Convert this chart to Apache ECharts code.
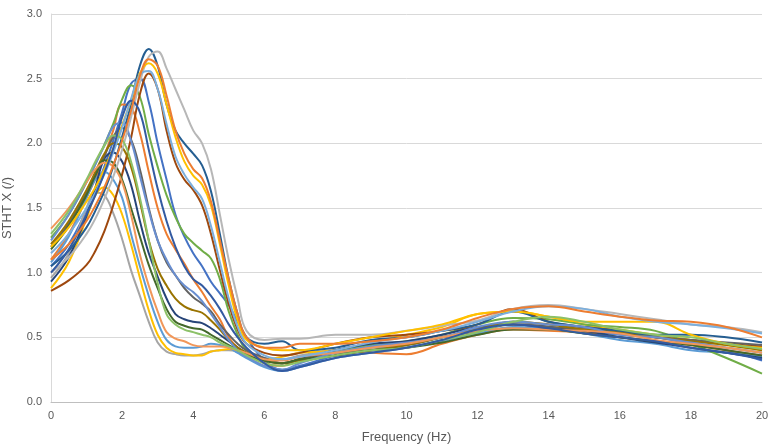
<!DOCTYPE html>
<html><head><meta charset="utf-8">
<script src="https://cdn.jsdelivr.net/npm/echarts@6/dist/echarts.min.js"></script>
<style>html,body{margin:0;padding:0;background:#fff}#c{width:769px;height:446px}</style>
</head><body><div id="c"></div>
<script>
const xs = [0,0.5,1,1.25,1.5,1.75,2,2.25,2.5,2.75,3,3.25,3.5,3.75,4,4.25,4.5,4.75,5,5.25,5.5,6,6.5,7,8,9,10,11,12,13,14,15,16,17,18,19,20];
const yTicks = [0,0.5,1,1.5,2,2.5,3];
const xTicks = [0,2,4,6,8,10,12,14,16,18,20];

const sA = [1.05,1.17,1.35,1.48,1.63,1.82,2.05,2.3,2.6,2.73,2.6,2.3,2.1,2.0,1.92,1.83,1.63,1.3,0.95,0.68,0.5,0.45,0.47,0.4,0.42,0.48,0.5,0.55,0.6,0.7,0.62,0.58,0.55,0.52,0.52,0.5,0.46];
const sB = [1.0,1.12,1.3,1.42,1.57,1.74,1.95,2.2,2.47,2.67,2.71,2.58,2.42,2.26,2.1,2.0,1.8,1.45,1.1,0.8,0.55,0.48,0.49,0.49,0.52,0.52,0.55,0.59,0.63,0.72,0.75,0.72,0.68,0.64,0.6,0.58,0.54];
const sC = [1.1,1.22,1.4,1.52,1.66,1.83,2.02,2.25,2.52,2.65,2.6,2.37,2.1,1.92,1.8,1.73,1.55,1.25,0.95,0.68,0.5,0.42,0.42,0.45,0.45,0.47,0.5,0.56,0.65,0.72,0.74,0.7,0.66,0.63,0.62,0.58,0.5];
const sD = [1.2,1.35,1.55,1.66,1.8,1.96,2.14,2.33,2.54,2.62,2.54,2.3,2.05,1.86,1.75,1.68,1.52,1.22,0.9,0.63,0.48,0.42,0.4,0.4,0.45,0.5,0.55,0.6,0.68,0.7,0.66,0.62,0.62,0.62,0.52,0.45,0.42];
const sE = [1.15,1.3,1.5,1.62,1.76,1.93,2.12,2.34,2.53,2.56,2.42,2.15,1.9,1.76,1.66,1.57,1.36,1.08,0.8,0.58,0.45,0.36,0.33,0.35,0.4,0.46,0.5,0.55,0.62,0.7,0.74,0.72,0.66,0.62,0.6,0.57,0.53];
const sF = [0.86,0.94,1.06,1.17,1.32,1.52,1.76,2.04,2.38,2.54,2.42,2.1,1.85,1.72,1.64,1.52,1.3,1.02,0.76,0.56,0.45,0.38,0.36,0.38,0.45,0.5,0.52,0.55,0.6,0.72,0.62,0.58,0.55,0.5,0.48,0.45,0.43];
const sG = [1.05,1.22,1.48,1.64,1.82,2.02,2.24,2.46,2.5,2.32,2.0,1.72,1.45,1.28,1.15,1.05,0.93,0.84,0.75,0.62,0.5,0.32,0.25,0.28,0.36,0.42,0.44,0.5,0.55,0.62,0.58,0.55,0.52,0.5,0.45,0.4,0.32];
const sH = [1.27,1.45,1.7,1.84,1.99,2.15,2.34,2.45,2.36,2.07,1.82,1.6,1.43,1.3,1.23,1.17,1.11,0.95,0.7,0.52,0.4,0.33,0.3,0.33,0.4,0.44,0.47,0.52,0.6,0.65,0.64,0.6,0.58,0.55,0.45,0.34,0.22];
const sI = [1.0,1.18,1.45,1.6,1.77,1.96,2.2,2.33,2.24,1.95,1.65,1.4,1.2,1.05,0.95,0.9,0.82,0.72,0.6,0.5,0.42,0.3,0.24,0.27,0.34,0.38,0.42,0.48,0.56,0.6,0.57,0.53,0.5,0.47,0.42,0.38,0.33];
const sJ = [1.1,1.3,1.58,1.73,1.9,2.1,2.3,2.28,2.08,1.78,1.5,1.3,1.18,1.07,0.95,0.85,0.74,0.64,0.5,0.42,0.38,0.3,0.28,0.34,0.4,0.38,0.37,0.45,0.52,0.56,0.55,0.54,0.5,0.47,0.44,0.4,0.36];
const sK = [1.25,1.45,1.7,1.84,1.98,2.13,2.16,2.02,1.75,1.48,1.25,1.1,0.98,0.9,0.85,0.78,0.68,0.58,0.48,0.4,0.35,0.28,0.25,0.3,0.38,0.43,0.46,0.5,0.58,0.62,0.6,0.58,0.52,0.5,0.46,0.42,0.38];
const sL = [1.2,1.38,1.62,1.76,1.9,2.05,2.12,2.03,1.8,1.5,1.25,1.08,0.98,0.88,0.81,0.76,0.7,0.6,0.52,0.45,0.4,0.34,0.3,0.33,0.38,0.4,0.44,0.5,0.55,0.6,0.58,0.56,0.53,0.5,0.48,0.46,0.44];
const sM = [1.3,1.48,1.72,1.86,1.98,2.06,2.03,1.86,1.58,1.25,0.92,0.68,0.6,0.56,0.54,0.52,0.5,0.46,0.43,0.4,0.36,0.3,0.28,0.31,0.36,0.4,0.42,0.48,0.54,0.62,0.66,0.62,0.56,0.52,0.5,0.45,0.41];
const sN = [1.22,1.4,1.64,1.78,1.92,2.0,1.97,1.82,1.55,1.25,1.03,0.9,0.8,0.74,0.71,0.69,0.63,0.56,0.48,0.42,0.38,0.32,0.3,0.32,0.36,0.4,0.44,0.5,0.56,0.62,0.6,0.56,0.54,0.5,0.47,0.44,0.4];
const sO = [0.93,1.12,1.44,1.66,1.88,1.93,1.86,1.68,1.4,1.15,0.97,0.8,0.68,0.64,0.62,0.61,0.57,0.52,0.47,0.42,0.38,0.33,0.3,0.33,0.4,0.45,0.47,0.52,0.58,0.6,0.58,0.55,0.5,0.46,0.42,0.38,0.34];
const sP = [1.18,1.36,1.6,1.75,1.87,1.85,1.72,1.5,1.28,1.06,0.88,0.72,0.62,0.59,0.57,0.56,0.52,0.48,0.44,0.4,0.36,0.32,0.3,0.33,0.36,0.4,0.42,0.46,0.52,0.56,0.56,0.53,0.5,0.47,0.44,0.4,0.36];
const sQ = [1.34,1.5,1.7,1.8,1.85,1.82,1.7,1.45,1.14,0.9,0.7,0.54,0.49,0.47,0.44,0.43,0.43,0.43,0.42,0.4,0.38,0.33,0.32,0.35,0.38,0.42,0.45,0.5,0.55,0.57,0.56,0.55,0.53,0.48,0.45,0.42,0.38];
const sR = [1.08,1.28,1.58,1.72,1.78,1.72,1.58,1.3,1.05,0.82,0.62,0.48,0.43,0.42,0.42,0.43,0.45,0.44,0.42,0.38,0.34,0.27,0.24,0.27,0.34,0.38,0.42,0.47,0.53,0.58,0.57,0.53,0.48,0.45,0.4,0.38,0.35];
const sS = [0.88,1.08,1.42,1.6,1.66,1.6,1.45,1.22,0.96,0.71,0.52,0.42,0.38,0.37,0.36,0.36,0.39,0.4,0.41,0.4,0.38,0.33,0.35,0.38,0.4,0.46,0.52,0.58,0.68,0.7,0.66,0.6,0.56,0.52,0.48,0.44,0.4];
const sT = [0.96,1.15,1.5,1.62,1.6,1.46,1.26,1.02,0.82,0.62,0.46,0.39,0.37,0.36,0.36,0.37,0.39,0.4,0.4,0.39,0.37,0.34,0.33,0.36,0.4,0.42,0.46,0.5,0.57,0.6,0.6,0.57,0.53,0.5,0.46,0.42,0.38];

const seriesList = [
  ['#4472C4', sG], ['#ED7D31', sJ], ['#A5A5A5', sT], ['#FFC000', sS], ['#5B9BD5', sR],
  ['#70AD47', sH], ['#264478', sO], ['#9E480E', sF], ['#636363', sL], ['#997300', sN],
  ['#255E91', sA], ['#43682B', sP], ['#698ED0', sK], ['#F1975A', sQ], ['#B7B7B7', sB],
  ['#FFC000', sD], ['#7CAFDD', sE], ['#8CC168', sM], ['#335AA1', sI], ['#ED7D31', sC]
];

const chart = echarts.init(document.getElementById('c'), null, {renderer: 'canvas'});
const font = 'Liberation Sans';
chart.setOption({
  animation: false,
  backgroundColor: '#ffffff',
  grid: {left: 51, right: 7, top: 14, bottom: 44, containLabel: false, outerBoundsMode: 'none'},
  xAxis: {
    type: 'value', min: 0, max: 20, interval: 2,
    name: 'Frequency (Hz)', nameLocation: 'middle', nameGap: 29,
    nameTextStyle: {color: '#595959', fontSize: 13, fontFamily: font},
    axisLine: {show: true, lineStyle: {color: '#bfbfbf', width: 1}},
    axisTick: {show: false},
    splitLine: {show: false},
    axisLabel: {color: '#595959', fontSize: 11, fontFamily: font, margin: 8,
      formatter: v => xTicks.includes(v) ? String(v) : ''}
  },
  yAxis: {
    type: 'value', min: 0, max: 3, interval: 0.5,
    name: 'STHT X (/)', nameLocation: 'middle', nameGap: 37, nameRotate: 90,
    nameTextStyle: {color: '#595959', fontSize: 13, fontFamily: font},
    axisLine: {show: true, lineStyle: {color: '#d9d9d9', width: 1}},
    axisTick: {show: false},
    splitLine: {show: true, lineStyle: {color: '#d9d9d9', width: 1}},
    axisLabel: {color: '#595959', fontSize: 11, fontFamily: font, margin: 9,
      formatter: v => yTicks.includes(v) ? v.toFixed(1) : ''}
  },
  series: seriesList.map(([color, arr]) => ({
    type: 'line', smooth: 0.4, symbol: 'none',
    lineStyle: {color: color, width: 2},
    itemStyle: {color: color},
    data: xs.map((x, i) => [x, arr[i]])
  }))
});
</script></body></html>
